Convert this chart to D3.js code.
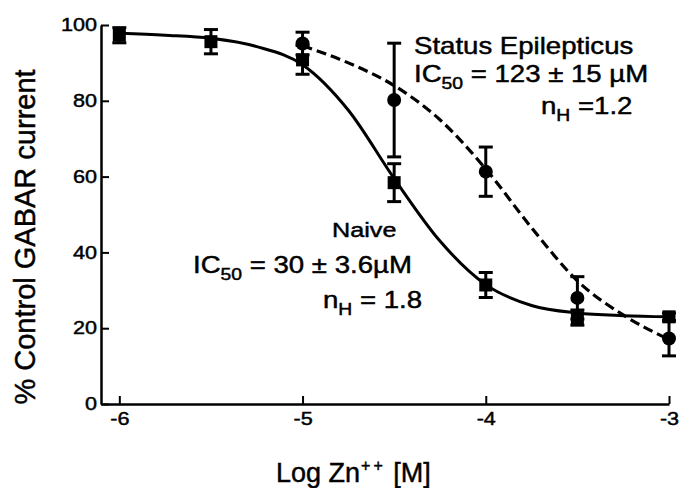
<!DOCTYPE html>
<html>
<head>
<meta charset="utf-8">
<script src="https://cdn.jsdelivr.net/npm/d3@7"></script>
<style>
  body { margin: 0; background: #fff; }
  svg { display: block; }
  text { font-family: "Liberation Sans", Arial, Helvetica, sans-serif; fill: #000; stroke: #000; stroke-width: 0.45px; }
</style>
</head>
<body>
<svg></svg>
<script>
// measured points (log molar Zn vs % control current)
var naiveConc = [-6, -5.5, -5, -4.5, -4, -3.5, -3];
var naiveMean = [97.3, 95.6, 90.8, 58.4, 31.4, 22.8, 23];
var naiveErr = [2, 3.2, 3.8, 5, 3.3, 2, 1];

var seConc = [-5, -4.5, -4, -3.5, -3];
var seMean = [95.1, 80.2, 61.3, 28, 17.3];
var seErr = [3, 15, 6.5, 5.6, 4.6];

// fitted curves
var naiveFitX = [-6, -5.75, -5.5, -5.25, -5, -4.75, -4.5, -4.25, -4, -3.75, -3.5, -3.25, -3];
var naiveFitY = [97.8, 97.3, 96.5, 94.3, 89.5, 77.5, 59.5, 43, 31.5, 26, 24, 23.3, 23];
var seFitX = [-5, -4.75, -4.5, -4.25, -4, -3.75, -3.5, -3.25, -3];
var seFitY = [94.5, 90, 84, 75, 62, 46.5, 32.5, 23.5, 17];

var xTicks = [-6, -5, -4, -3];
var yTicks = [0, 20, 40, 60, 80, 100];

var width = 679, height = 488;
var stretch = 1.2;

var svg = d3.select("svg").attr("width", width).attr("height", height);

var x = d3.scaleLinear().domain([-6.1, -3]).range([101, 669]);
var y = d3.scaleLinear().domain([0, 100]).range([404, 25]);

// axes
var xAxis = svg.append("g")
    .attr("transform", "translate(0," + y(0) + ")")
    .call(d3.axisBottom(x).tickValues(xTicks).tickFormat(d => String(d))
        .tickSizeInner(-8).tickSizeOuter(0).tickPadding(8));
var yAxis = svg.append("g")
    .attr("transform", "translate(" + x(-6.1) + ",0)")
    .call(d3.axisLeft(y).tickValues(yTicks).tickFormat(d => String(d))
        .tickSizeInner(-8).tickSizeOuter(0).tickPadding(4));

[xAxis, yAxis].forEach(function(a) {
    a.select(".domain").attr("stroke", "#000").attr("stroke-width", 2.5);
    a.selectAll(".tick line").attr("stroke", "#000").attr("stroke-width", 2);
    a.selectAll(".tick text")
        .style("font-family", '"Liberation Sans", Arial, sans-serif')
        .style("font-size", "18px");
});
xAxis.selectAll(".tick text").attr("transform", "scale(" + stretch + ",1)");
yAxis.selectAll(".tick text")
    .attr("x", -4 / stretch)
    .attr("transform", "scale(" + stretch + ",1)");

// fitted curves
var line = d3.line()
    .x(function(d) { return x(d[0]); })
    .y(function(d) { return y(d[1]); })
    .curve(d3.curveMonotoneX);

svg.append("path")
    .datum(d3.zip(naiveFitX, naiveFitY))
    .attr("d", line)
    .attr("fill", "none").attr("stroke", "#000").attr("stroke-width", 3);

svg.append("path")
    .datum(d3.zip(seFitX, seFitY))
    .attr("d", line)
    .attr("fill", "none").attr("stroke", "#000").attr("stroke-width", 3.2)
    .attr("stroke-dasharray", "10,5");

// error bars
function errorBars(conc, mean, err) {
    var data = d3.zip(conc, mean, err);
    var g = svg.append("g").attr("stroke", "#000").attr("stroke-width", 3);
    g.selectAll("line.v").data(data).enter().append("line")
        .attr("x1", d => x(d[0])).attr("x2", d => x(d[0]))
        .attr("y1", d => y(d[1] - d[2])).attr("y2", d => y(d[1] + d[2]));
    [-1, 1].forEach(function(s) {
        g.selectAll("line.c" + s).data(data).enter().append("line")
            .attr("x1", d => x(d[0]) - 7).attr("x2", d => x(d[0]) + 7)
            .attr("y1", d => y(d[1] + s * d[2])).attr("y2", d => y(d[1] + s * d[2]));
    });
}
errorBars(naiveConc, naiveMean, naiveErr);
errorBars(seConc, seMean, seErr);

// markers
svg.append("g").selectAll("rect")
    .data(d3.zip(naiveConc, naiveMean))
    .enter().append("rect")
    .attr("x", d => x(d[0]) - 6.5).attr("y", d => y(d[1]) - 6.5)
    .attr("width", 13).attr("height", 13)
    .attr("fill", "#000");

svg.append("g").selectAll("circle")
    .data(d3.zip(seConc, seMean))
    .enter().append("circle")
    .attr("cx", d => x(d[0])).attr("cy", d => y(d[1]))
    .attr("r", 7)
    .attr("fill", "#000");

// annotation text with sub/superscripts
function label(px, py, size, parts) {
    var t = svg.append("text")
        .attr("transform", "translate(" + px + "," + py + ") scale(" + stretch + ",1)")
        .style("font-size", size + "px");
    var shifted = 0;
    parts.forEach(function(p) {
        var ts = t.append("tspan").text(p.t);
        var want = p.sub ? size * 0.3 : (p.sup ? -size * 0.38 : 0);
        if (want !== shifted) { ts.attr("dy", want - shifted); shifted = want; }
        if (p.sub || p.sup) ts.style("font-size", (size * 0.7) + "px");
    });
    return t;
}

label(414, 54, 23, [{t: "Status Epilepticus"}]);
label(414, 82, 23, [{t: "IC"}, {t: "50", sub: true}, {t: " = 123 \u00b1 15 \u00b5M"}]);
label(541, 114, 23, [{t: "n"}, {t: "H", sub: true}, {t: " =1.2"}]);

label(332, 237, 21, [{t: "Naive"}]);
label(193, 273, 23, [{t: "IC"}, {t: "50", sub: true}, {t: " = 30 \u00b1 3.6\u00b5M"}]);
label(323, 308, 23, [{t: "n"}, {t: "H", sub: true}, {t: " = 1.8"}]);

// axis titles
var xt = svg.append("text")
    .attr("x", 276).attr("y", 482)
    .style("font-size", "27px");
xt.append("tspan").text("Log Zn");
xt.append("tspan").text("++").attr("dy", -11).attr("dx", 1)
    .style("font-size", "16px").style("letter-spacing", "3px");
xt.append("tspan").text(" [M]").attr("dy", 11).style("letter-spacing", "0px");

svg.append("text")
    .attr("transform", "translate(35,237) rotate(-90)")
    .attr("text-anchor", "middle")
    .style("font-size", "29px")
    .text("% Control GABAR current");
</script>
</body>
</html>
